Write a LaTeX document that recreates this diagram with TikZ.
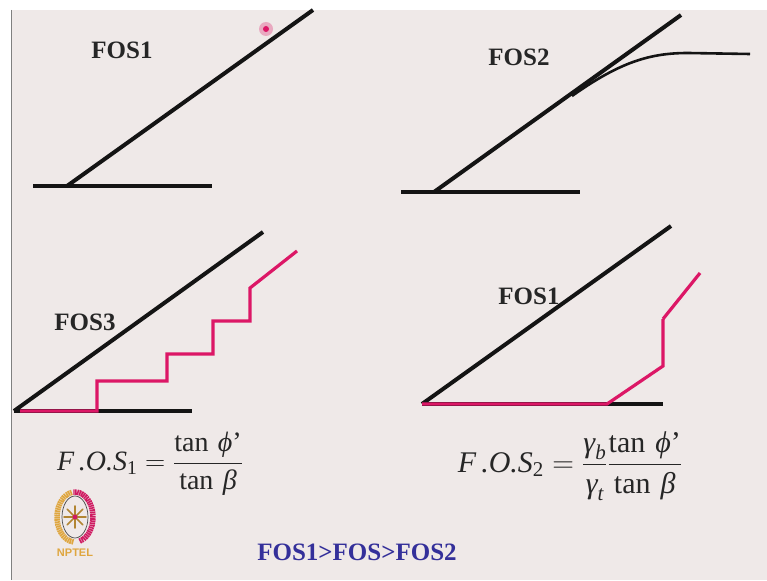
\documentclass[tikz,border=0pt]{standalone}
\usepackage{fix-cm}
\usepackage{amsmath}
\usepackage{fontspec}
\setmainfont{Liberation Serif}
\setsansfont{Liberation Sans}
\usetikzlibrary{positioning}
\definecolor{slidebg}{HTML}{EFE9E8}
\definecolor{pinkline}{HTML}{DC1766}
\definecolor{titleblue}{HTML}{34309A}
\definecolor{logoorange}{HTML}{DFA63F}
\definecolor{logored}{HTML}{CF1B62}
\newcommand{\itvar}[1]{\text{\itshape #1}}
\newcommand{\tanof}[1]{\text{tan\,\,\itshape #1}}

\begin{document}
\begin{tikzpicture}[
    x=1pt, y=-1pt,
    slope/.style={line width=4pt, black!92},
    seepage/.style={line width=3.2pt, pinkline},
    title/.style={font=\fontsize{25}{28}\selectfont\bfseries, text=black!85, inner sep=0pt},
    formula/.style={font=\fontsize{28}{31}\selectfont, text=black!85, inner sep=0pt}
]

% Slide
\useasboundingbox (0,0) rectangle (767,580);
\fill[white] (0,0) rectangle (767,580);
\fill[slidebg] (11,10) rectangle (767,580);
\draw[gray, line width=1pt] (11,10) -- (11,580);

% FOS1 top left
\draw[slope] (33,186) -- (212,186);
\draw[slope] (67,186) -- (313,10);
\node[title] (fosA) at (122,50) {FOS1};
\fill[pinkline, opacity=0.3] (266,29) circle (7);
\fill[pinkline] (266,29) circle (3);

% FOS2 top right
\draw[slope] (401,192) -- (580,192);
\draw[slope] (434,192) -- (681,15);
\draw[line width=2.6pt, black!92] (572,96) .. controls (620,62) and (650,53) .. (688,53) -- (750,54);
\node[title] (fosB) at (519,57) {FOS2};

% FOS3 bottom left
\draw[slope] (14,411) -- (192,411);
\draw[slope] (14,411) -- (263,232);
\draw[seepage] (20,411) -- (97,411) -- (97,381) -- (167,381) -- (167,354) -- (213,354)
    -- (213,321) -- (250,321) -- (250,288) -- (297,251);
\node[title] (fosC) at (85,322) {FOS3};

% FOS1 bottom right
\draw[slope] (422,404) -- (663,404);
\draw[slope] (422,404) -- (671,226);
\draw[seepage] (422,404) -- (607,404) -- (663,366) -- (663,319);
\draw[seepage] (663,319) -- (700,273);
\node[title] (fosD) at (529,296) {FOS1};

% Formulas
\node[formula] (eqA) at (150,464) {$\displaystyle \itvar{F\,.O.S}_{\text{1}}=\frac{\tanof{ϕ}\text{'}}{\tanof{β}}$};
\node[formula, font=\fontsize{30}{33}\selectfont] (eqB) at (570,466) {$\displaystyle \itvar{F\,.O.S}_{\text{2}}=\frac{\itvar{γ}_{\itvar{b}}}{\itvar{γ}_{\itvar{t}}}\frac{\tanof{ϕ}\text{'}}{\tanof{β}}$};

% Logo
\draw[black!70, line width=0.7pt] (75,517) ellipse (13 and 21);
\draw[logoorange, line width=5.5pt, dash pattern=on 1.6pt off 0.6pt] (75,517) ++(95:18 and 25) arc[start angle=95, end angle=260, x radius=18, y radius=25];
\draw[logored, line width=5.5pt, dash pattern=on 1.6pt off 0.6pt] (75,517) ++(75:18 and 25) arc[start angle=75, end angle=-95, x radius=18, y radius=25];
\foreach \a in {0,45,...,135}
    \draw[logoorange!80!black, line width=1.6pt, line cap=round] (75,517) ++(\a:11) -- ++(\a+180:22);
\fill[logored] (75,517) circle (2.4);
\node[font=\sffamily\bfseries\fontsize{11}{13}\selectfont, text=logoorange, inner sep=0pt] (logo) at (75,553) {NPTEL};

% Result
\node[font=\fontsize{25}{28}\selectfont\bfseries, text=titleblue, inner sep=0pt] (result) at (357,552) {FOS1>FOS>FOS2};

\end{tikzpicture}
\end{document}
